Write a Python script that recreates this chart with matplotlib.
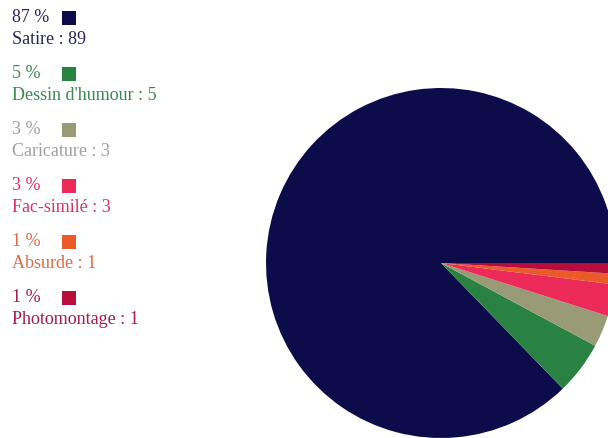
import matplotlib
matplotlib.use("Agg")
import matplotlib.pyplot as plt
from matplotlib.patches import Rectangle

labels = ["Satire", "Dessin d'humour", "Caricature", "Fac-similé", "Absurde", "Photomontage"]
values = [89, 5, 3, 3, 1, 1]
percents = ["87 %", "5 %", "3 %", "3 %", "1 %", "1 %"]
colors = ["#0d0c4a", "#2a8242", "#989b76", "#eb2a5a", "#eb5a28", "#b80c3c"]
text_colors = ["#26265a", "#3a8a50", "#a0a0a0", "#e0305f", "#e06a45", "#a81a48"]

W, H = 608, 438
fig = plt.figure(figsize=(W / 100, H / 100), dpi=100)
ax = fig.add_axes([0, 0, 1, 1])

wedges, _ = ax.pie(values, colors=colors, startangle=0, counterclock=True,
                   center=(441, H - 263), radius=175, frame=True,
                   wedgeprops=dict(linewidth=0))
ax.set_xlim(0, W)
ax.set_ylim(0, H)
ax.set_aspect("equal")
ax.axis("off")

font = dict(family="Liberation Serif", fontsize=13)
y0 = 18
step = 56
for i, (lab, v, p, tc, c) in enumerate(zip(labels, values, percents, text_colors, colors)):
    yc = y0 + i * step
    ax.text(12, H - yc, p, color=tc, va="center", ha="left", **font)
    ax.add_patch(Rectangle((62, H - yc - 7), 14, 14, color=c, linewidth=0))
    ax.text(12, H - (yc + 21), f"{lab} : {v}", color=tc, va="center", ha="left", **font)

fig.savefig("out.png", dpi=100)
